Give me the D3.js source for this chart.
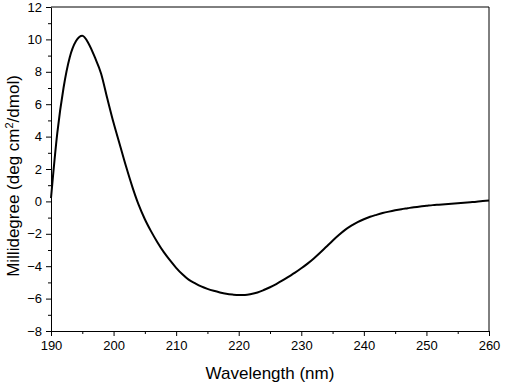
<!DOCTYPE html>
<html lang="en">
<head>
    <meta charset="UTF-8">
    <title>CD Spectrum</title>
    <script src="https://d3js.org/d3.v7.min.js"></script>
    <style>
        body { margin: 0; background: #fff; font-family: "Liberation Sans", Arial, sans-serif; }
        .axis text { font-size: 13px; fill: #000; font-family: "Liberation Sans", Arial, sans-serif; }
        .axis path, .axis line { stroke: #000; }
        .axis-label { font-size: 17px; fill: #000; }
    </style>
</head>
<body>
<svg></svg>
<script>
    // wavelength (nm) and ellipticity readings
    const wavelength = d3.range(190, 261);
    const millidegree = [
        0.2, 4.2, 7.0, 8.9, 9.9, 10.22, 9.75, 8.9, 7.9, 6.35,
        4.85, 3.5, 2.15, 0.9, -0.2, -1.1, -1.85, -2.52, -3.12, -3.63,
        -4.1, -4.5, -4.83, -5.05, -5.25, -5.4, -5.52, -5.62, -5.7, -5.75,
        -5.78, -5.78, -5.72, -5.62, -5.47, -5.3, -5.1, -4.88, -4.64, -4.4,
        -4.13, -3.84, -3.52, -3.17, -2.8, -2.43, -2.08, -1.76, -1.5, -1.28,
        -1.1, -0.95, -0.83, -0.72, -0.63, -0.55, -0.48, -0.42, -0.36, -0.31,
        -0.27, -0.23, -0.2, -0.17, -0.14, -0.11, -0.08, -0.05, -0.02, 0.02,
        0.06
    ];
    const xTicks = [190, 200, 210, 220, 230, 240, 250, 260];
    const yTicks = [-8, -6, -4, -2, 0, 2, 4, 6, 8, 10, 12];

    const W = 505, H = 382;
    const margin = { top: 7, right: 16, bottom: 51, left: 51 };
    const width = W - margin.left - margin.right;
    const height = H - margin.top - margin.bottom;

    const root = d3.select("svg").attr("width", W).attr("height", H);
    const svg = root.append("g").attr("transform", `translate(${margin.left},${margin.top})`);

    const x = d3.scaleLinear().domain([190, 260]).range([0, width]);
    const y = d3.scaleLinear().domain([-8, 12]).range([height, 0]);

    // minor ticks
    svg.append("g")
        .attr("class", "axis")
        .attr("transform", `translate(0,${height})`)
        .call(d3.axisBottom(x).tickValues(d3.range(195, 260, 10)).tickSize(3).tickFormat(""))
        .select(".domain").remove();
    svg.append("g")
        .attr("class", "axis")
        .call(d3.axisLeft(y).tickValues(d3.range(-7, 12, 2)).tickSize(3).tickFormat(""))
        .select(".domain").remove();

    // major ticks
    svg.append("g")
        .attr("class", "axis")
        .attr("transform", `translate(0,${height})`)
        .call(d3.axisBottom(x).tickValues(xTicks).tickSize(5).tickPadding(5).tickSizeOuter(0));
    svg.append("g")
        .attr("class", "axis")
        .call(d3.axisLeft(y).tickValues(yTicks).tickSize(5).tickPadding(4).tickSizeOuter(0));

    // top and right frame
    svg.append("line").attr("x1", 0).attr("x2", width).attr("y1", 0).attr("y2", 0)
        .attr("stroke", "#000");
    svg.append("line").attr("x1", width).attr("x2", width).attr("y1", 0).attr("y2", height)
        .attr("stroke", "#000");

    const line = d3.line()
        .x((d, i) => x(wavelength[i]))
        .y(d => y(d))
        .curve(d3.curveMonotoneX);

    svg.append("path")
        .datum(millidegree)
        .attr("fill", "none")
        .attr("stroke", "#000")
        .attr("stroke-width", 2)
        .attr("stroke-linejoin", "round")
        .attr("d", line);

    svg.append("text")
        .attr("class", "axis-label")
        .attr("x", width / 2)
        .attr("y", height + 48)
        .attr("text-anchor", "middle")
        .text("Wavelength (nm)");

    const yl = svg.append("text")
        .attr("class", "axis-label")
        .attr("transform", `translate(-32,${height / 2 + 7}) rotate(-90)`)
        .attr("text-anchor", "middle");
    yl.append("tspan").text("Millidegree (deg cm");
    yl.append("tspan").attr("baseline-shift", "super").attr("font-size", "11px").text("2");
    yl.append("tspan").text("/dmol)");
</script>
</body>
</html>
